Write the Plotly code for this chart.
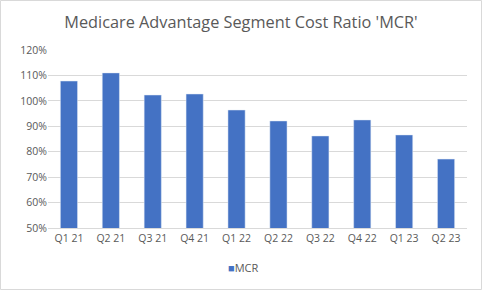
import plotly.graph_objects as go

categories = ["Q1 21", "Q2 21", "Q3 21", "Q4 21", "Q1 22", "Q2 22", "Q3 22", "Q4 22", "Q1 23", "Q2 23"]
mcr = [107.8, 111.0, 102.3, 102.7, 96.4, 92.1, 86.2, 92.5, 86.6, 77.1]
y_ticks = [50, 60, 70, 80, 90, 100, 110, 120]
y_labels = [f"{v}%" for v in y_ticks]
series_name = "MCR"
bar_color = "#4472C4"

W, H = 482, 290
ml, mr, mt, mb = 48, 15, 50, 62
pw, ph = W - ml - mr, H - mt - mb

fig = go.Figure()
fig.add_trace(go.Bar(x=categories, y=mcr, name=series_name, marker_color=bar_color,
                     width=0.41, showlegend=False))

fig.update_layout(
    width=W, height=H,
    margin=dict(l=ml, r=mr, t=mt, b=mb),
    paper_bgcolor="white", plot_bgcolor="white",
    font=dict(family="Open Sans, Liberation Sans, sans-serif", color="#595959", size=10),
    title=dict(text="Medicare Advantage Segment Cost Ratio 'MCR'", x=0.5, xanchor="center",
               y=1 - 22 / H, yanchor="middle", font=dict(size=16.3, color="#595959")),
    showlegend=False,
)
fig.update_yaxes(range=[50, 120], tickvals=y_ticks, ticktext=y_labels, showgrid=True,
                 gridcolor="#D9D9D9", gridwidth=1, zeroline=False, showline=False,
                 tickfont=dict(size=10.5, color="#595959"), ticks="")
fig.update_xaxes(showline=True, linecolor="#D9D9D9", linewidth=1, ticks="",
                 tickfont=dict(size=10.5, color="#595959"))
# legend drawn as text annotation to match compact Excel legend
fig.add_annotation(xref="paper", yref="paper", x=(226 - ml) / pw, y=-(267 - (mt + ph)) / ph,
                   xanchor="left", yanchor="middle", showarrow=False,
                   text=f"<span style='color:{bar_color}'>■</span>{series_name}",
                   font=dict(size=11, color="#595959"))
fig.add_shape(type="rect", xref="paper", yref="paper",
              x0=(0.5 - ml) / pw, x1=(W - 0.5 - ml) / pw,
              y0=-(H - 0.5 - mt - ph) / ph, y1=(mt + ph - 0.5) / ph,
              line=dict(color="#D9D9D9", width=1), fillcolor="rgba(0,0,0,0)", layer="below")

fig.write_html("out.html")
